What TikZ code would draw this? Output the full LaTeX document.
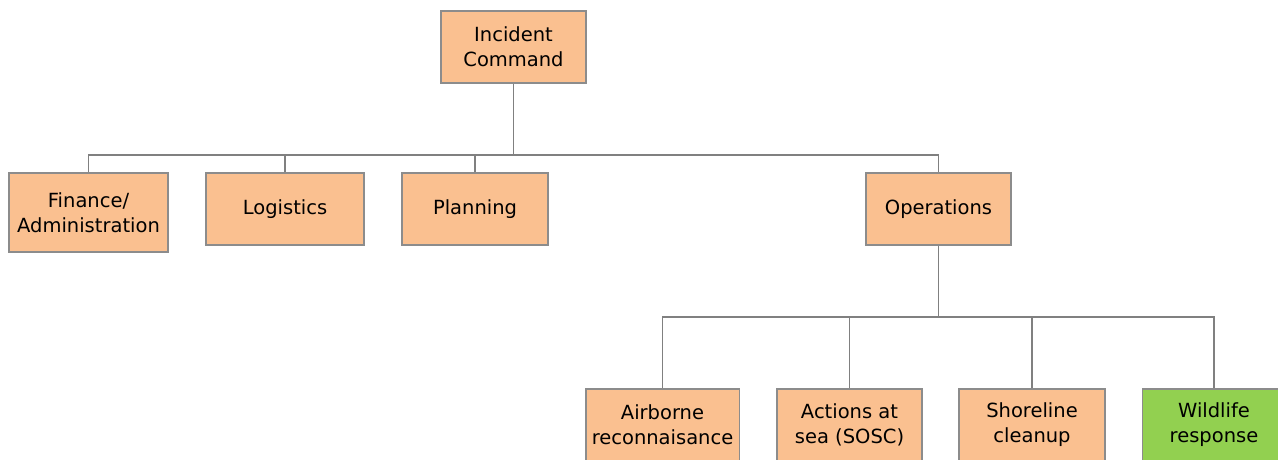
\documentclass[tikz,border=0pt]{standalone}
\usepackage{fontspec}
\setmainfont{DejaVu Sans}
\definecolor{boxfill}{HTML}{FAC090}
\definecolor{greenfill}{HTML}{92D050}
\definecolor{boxline}{HTML}{8C8C8C}
\definecolor{conline}{HTML}{808080}
\tikzset{
  orgbox/.style={draw=boxline, line width=1.5pt, fill=boxfill, rectangle, inner sep=0pt,
    align=center, font=\fontsize{19.5}{25}\selectfont, text=black},
  greenbox/.style={orgbox, fill=greenfill},
  conn/.style={draw=conline, line width=1.3pt}
}
\begin{document}
\begin{tikzpicture}[x=1pt,y=-1pt]
\useasboundingbox (0,0) rectangle (1278,459);
\clip (0,0) rectangle (1278,459);
\fill[white] (0,0) rectangle (1278,459);
\coordinate (busA) at (0,155);
\coordinate (busB) at (0,317);
\node[orgbox, minimum width=145pt, minimum height=72pt] (ic) at (513.5,47) {Incident\\Command};
\node[orgbox, minimum width=159pt, minimum height=79pt] (fin) at (88.5,212.5) {Finance/\\Administration};
\node[orgbox, minimum width=158pt, minimum height=72pt] (log) at (285,209) {Logistics};
\node[orgbox, minimum width=146pt, minimum height=72pt] (plan) at (475,209) {Planning};
\node[orgbox, minimum width=145pt, minimum height=72pt] (ops) at (938.5,209) {Operations};
\node[orgbox, minimum width=153.5pt, minimum height=72pt] (air) at (662.5,425) {Airborne\\reconnaisance};
\node[orgbox, minimum width=145pt, minimum height=72pt] (sea) at (849.5,425) {Actions at\\sea (SOSC)};
\node[orgbox, minimum width=146pt, minimum height=72pt] (shore) at (1032,425) {Shoreline\\cleanup};
\node[greenbox, minimum width=143pt, minimum height=72pt] (wild) at (1214,425) {Wildlife\\response};
\begin{scope}[on background layer/.try]
\end{scope}
\draw[conn] (ic.south) -- (ic.south |- busA);
\draw[conn] (fin.north) -- (fin.north |- busA) -| (ops.north);
\draw[conn] (log.north) -- (log.north |- busA);
\draw[conn] (plan.north) -- (plan.north |- busA);
\draw[conn] (ops.south) -- (ops.south |- busB);
\draw[conn] (air.north) -- (air.north |- busB) -| (wild.north);
\draw[conn] (sea.north) -- (sea.north |- busB);
\draw[conn] (shore.north) -- (shore.north |- busB);
\end{tikzpicture}
\end{document}
